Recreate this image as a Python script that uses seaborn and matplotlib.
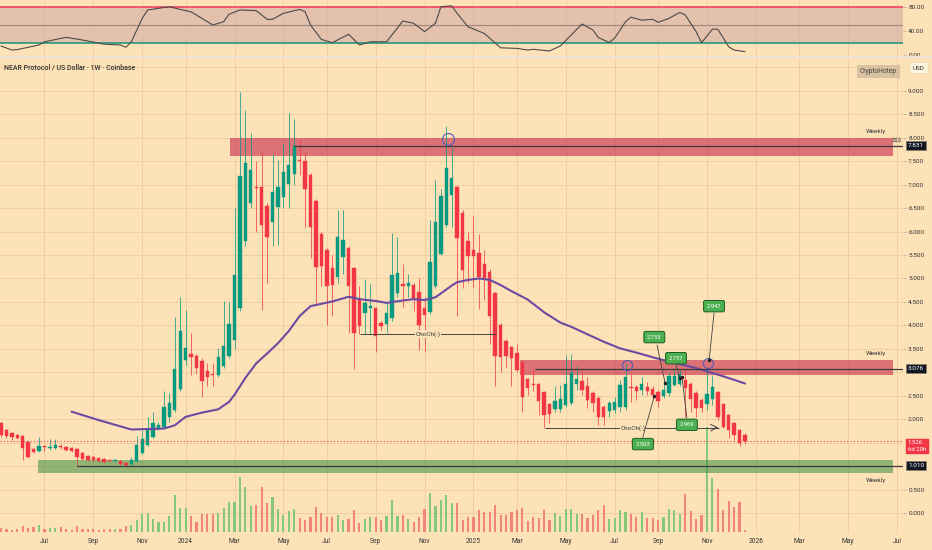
import numpy as np
import pandas as pd
import matplotlib
matplotlib.use("Agg")
import matplotlib.pyplot as plt
from matplotlib.patches import Rectangle
import seaborn as sns

# weekly candles, NEAR/USD, first bar 2023-05-08
opens = [1.91, 1.78, 1.71, 1.66, 1.64, 1.52, 1.36, 1.33, 1.41, 1.39,
         1.39, 1.43, 1.41, 1.38, 1.36, 1.27, 1.22, 1.19, 1.17, 1.15,
         1.12, 1.11, 1.11, 1.06, 1.04, 1.11, 1.27, 1.44, 1.61, 1.79,
         1.84, 2.04, 2.20, 2.64, 3.26, 3.39, 3.35, 3.23, 3.03, 2.96,
         2.94, 3.13, 3.35, 3.69, 4.38, 5.79, 6.62, 6.96, 6.94, 6.54,
         6.21, 6.53, 6.74, 7.01, 7.22, 7.53, 7.51, 7.21, 6.65, 5.94,
         5.61, 5.22, 5.04, 5.46, 5.64, 5.22, 4.54, 4.26, 4.38, 4.37,
         4.06, 4.03, 4.15, 4.68, 4.88, 4.85, 4.86, 4.72, 4.37, 4.29,
         4.83, 5.53, 6.14, 6.77, 6.94, 6.39, 5.79, 5.61, 5.54, 5.30,
         5.14, 4.68, 4.01, 3.67, 3.53, 3.42, 3.22, 2.85, 2.75, 2.74,
         2.57, 2.32, 2.21, 2.21, 2.31, 2.35, 2.76, 2.82, 2.71, 2.56,
         2.46, 2.25, 2.18, 2.20, 2.25, 2.25, 2.68, 2.68, 2.63, 2.68,
         2.65, 2.58, 2.49, 2.55, 2.73, 2.76, 2.84, 2.76, 2.55, 2.41,
         2.32, 2.42, 2.57, 2.32, 2.09, 1.91, 1.77, 1.67]
highs = [1.95, 1.80, 1.73, 1.68, 1.66, 1.54, 1.38, 1.63, 1.45, 1.58,
         1.58, 1.48, 1.43, 1.40, 1.38, 1.29, 1.24, 1.21, 1.19, 1.17,
         1.15, 1.15, 1.13, 1.08, 1.20, 1.65, 1.76, 2.04, 2.16, 1.95,
         2.61, 2.55, 4.17, 4.61, 4.32, 3.83, 3.40, 3.30, 3.20, 3.20,
         3.52, 4.51, 4.50, 6.50, 8.98, 8.59, 8.10, 7.50, 7.69, 6.60,
         7.66, 7.52, 7.87, 8.52, 8.40, 7.97, 7.70, 7.25, 6.70, 6.00,
         5.65, 5.50, 6.46, 6.46, 5.70, 5.25, 4.83, 4.99, 4.89, 4.40,
         4.10, 4.50, 5.96, 5.89, 5.30, 5.10, 4.90, 5.00, 4.60, 6.25,
         7.10, 6.90, 8.25, 7.80, 7.00, 6.45, 6.00, 6.34, 5.94, 5.60,
         5.20, 4.72, 4.05, 3.70, 3.55, 3.60, 3.25, 2.88, 3.08, 2.78,
         2.60, 2.35, 2.71, 2.72, 3.37, 3.40, 3.13, 2.98, 2.90, 2.60,
         2.50, 2.30, 2.38, 2.48, 2.84, 3.19, 2.97, 2.72, 2.90, 2.80,
         2.70, 2.62, 2.83, 3.01, 3.10, 3.05, 3.05, 2.80, 2.60, 2.45,
         3.10, 2.95, 2.60, 2.35, 2.12, 1.95, 1.80, 1.70]
lows = [1.62, 1.60, 1.56, 1.58, 1.12, 1.17, 1.28, 1.30, 1.32, 1.35,
        1.37, 1.36, 1.32, 1.30, 1.01, 1.12, 1.11, 1.09, 1.08, 1.06,
        1.08, 1.08, 1.02, 0.99, 1.02, 1.09, 1.25, 1.42, 1.59, 1.77,
        1.82, 1.95, 2.15, 2.60, 3.16, 2.94, 2.96, 2.47, 2.70, 2.70,
        2.90, 3.10, 3.30, 3.50, 4.30, 5.70, 6.50, 6.00, 4.32, 4.91,
        5.70, 5.72, 6.50, 6.50, 7.00, 7.20, 6.10, 5.43, 4.47, 4.83,
        4.01, 4.19, 4.90, 5.10, 3.83, 3.07, 3.82, 3.82, 3.82, 3.43,
        3.90, 3.84, 4.10, 4.60, 4.40, 4.60, 4.30, 3.47, 3.43, 4.25,
        4.80, 5.50, 6.10, 6.10, 4.21, 4.80, 4.90, 4.80, 4.35, 4.55,
        3.60, 2.70, 3.00, 3.10, 2.70, 3.00, 2.16, 2.51, 2.61, 2.09,
        1.82, 1.91, 2.15, 2.15, 2.25, 2.30, 2.62, 2.51, 2.23, 2.16,
        1.87, 1.87, 2.05, 2.13, 2.15, 2.20, 2.37, 2.41, 2.51, 2.51,
        2.44, 2.27, 2.45, 2.50, 2.70, 2.70, 2.05, 2.16, 2.05, 2.16,
        2.20, 2.30, 1.98, 1.81, 1.59, 1.56, 1.42, 1.48]
closes = [1.66, 1.64, 1.61, 1.60, 1.38, 1.19, 1.30, 1.42, 1.40, 1.41,
          1.46, 1.40, 1.35, 1.32, 1.19, 1.15, 1.14, 1.12, 1.11, 1.09,
          1.11, 1.12, 1.04, 1.02, 1.14, 1.45, 1.58, 1.78, 1.91, 1.87,
          2.25, 2.34, 3.06, 3.89, 3.51, 3.32, 3.10, 2.82, 2.89, 2.94,
          3.32, 3.55, 4.04, 5.07, 7.19, 7.455, 7.31, 6.92, 6.15, 5.89,
          6.85, 6.94, 7.26, 7.43, 7.82, 7.51, 6.90, 6.09, 5.25, 5.27,
          4.83, 4.86, 5.89, 5.83, 4.83, 3.83, 3.99, 4.47, 4.40, 3.78,
          3.98, 4.26, 5.07, 5.11, 4.85, 4.90, 4.57, 4.01, 4.22, 5.36,
          6.21, 6.76, 7.35, 7.15, 5.86, 5.18, 5.47, 5.47, 5.04, 5.00,
          4.19, 3.35, 3.33, 3.35, 3.31, 3.05, 2.48, 2.66, 2.73, 2.38,
          2.08, 2.11, 2.39, 2.44, 2.75, 2.99, 2.86, 2.62, 2.40, 2.35,
          2.05, 2.05, 2.34, 2.37, 2.72, 2.90, 2.66, 2.60, 2.74, 2.60,
          2.52, 2.39, 2.62, 2.92, 2.93, 2.96, 2.66, 2.44, 2.23, 2.23,
          2.54, 2.68, 2.04, 1.84, 1.77, 1.67, 1.50, 1.526]
volume = [4.3, 3.3, 2.0, 3.3, 6.0, 3.7, 5.3, 6.7, 3.3, 3.7,
          3.7, 5.3, 3.3, 2.0, 6.0, 2.7, 2.7, 2.7, 2.3, 2.7,
          2.7, 3.3, 3.3, 6.0, 7.3, 12.0, 17.7, 18.7, 13.3, 10.0,
          10.3, 16.0, 36.7, 24.3, 23.7, 16.0, 10.0, 17.7, 17.7, 17.7,
          19.3, 24.3, 30.0, 30.0, 55.3, 45.0, 25.7, 26.7, 45.3, 29.3,
          35.0, 23.3, 16.7, 20.7, 22.7, 13.7, 11.7, 15.0, 25.3, 18.7,
          15.3, 15.3, 16.7, 11.7, 13.3, 22.0, 8.7, 13.3, 15.3, 15.3,
          11.7, 15.7, 31.7, 16.0, 16.7, 13.3, 10.3, 15.0, 23.3, 38.7,
          25.7, 32.0, 37.0, 29.3, 28.7, 11.7, 15.3, 15.3, 22.0, 20.3,
          19.7, 27.0, 17.0, 16.7, 19.7, 21.7, 23.7, 11.0, 15.0, 14.0,
          21.7, 11.7, 19.3, 16.0, 22.7, 23.3, 18.0, 18.3, 14.0, 17.0,
          21.7, 27.0, 12.7, 13.7, 21.7, 19.7, 17.7, 15.0, 19.7, 13.7,
          13.7, 12.0, 15.3, 23.3, 22.0, 18.3, 38.3, 21.0, 12.7, 17.0,
          105.0, 53.7, 43.3, 22.0, 30.7, 25.3, 30.3, 2.3]

# moving average (bar index, value)
ma_idx = [13, 18, 24, 30, 32, 34, 37, 40, 42, 43, 45, 47, 49, 51, 53, 55, 57, 61,
          64, 66, 69, 71, 74, 76, 78, 80, 81, 83, 84, 86, 88, 90, 92, 94, 97, 100,
          103, 105, 108, 111, 114, 117, 120, 124, 128, 132, 135, 137]
ma_val = [2.16, 1.98, 1.78, 1.80, 1.87, 2.05, 2.14, 2.21, 2.37, 2.52, 2.88, 3.19,
          3.40, 3.62, 3.88, 4.20, 4.41, 4.51, 4.61, 4.56, 4.52, 4.48, 4.53, 4.56,
          4.54, 4.60, 4.68, 4.85, 4.92, 4.97, 5.00, 4.97, 4.86, 4.73, 4.55, 4.28,
          4.06, 3.97, 3.81, 3.65, 3.51, 3.42, 3.32, 3.20, 3.09, 2.95, 2.84, 2.76]

# oscillator pane (bar index, value)
rsi_idx = [0, 2, 3, 7, 8, 12, 15, 19, 22, 23, 24, 26, 27, 29, 31, 33, 35, 37, 39,
           41, 42, 44, 47, 49, 50, 52, 55, 56, 57, 59, 61, 64, 66, 68, 71, 74, 76,
           78, 80, 81, 83, 84, 86, 89, 92, 95, 97, 98, 101, 103, 107, 109, 110,
           112, 113, 115, 116, 118, 120, 121, 123, 125, 126, 128, 129, 131, 132,
           134, 135, 137]
rsi_val = [15, 8.3, 9, 16.7, 22, 29.5, 25, 18, 16.7, 12.8, 22, 61, 75, 77.8, 80.5,
           76, 72, 61, 50, 55.5, 68, 75, 74, 59.5, 59.5, 69.5, 76, 72, 50, 26, 20.5,
           34.5, 16.7, 22, 22, 56.7, 52.8, 39, 52.8, 80.5, 82, 69.5, 47, 36, 12, 11,
           8.3, 9.5, 6.7, 15, 51.7, 41.7, 29, 21, 28, 55.5, 63, 58, 59.5, 54.5, 61,
           71, 66.7, 39, 20.5, 43, 43, 13.8, 8.3, 5.5]

# annotation labels (bar index, price)
label_text = ["2.753", "2.757", "2.947", "2.969", "2.503"]
label_pos = [(120.3, 3.75), (124.3, 3.30), (131.3, 4.41), (126.3, 1.88), (118.2, 1.47)]
label_tip = [((120.8, 3.58), (122.3, 2.77)), ((124.3, 3.16), (125.0, 2.88)),
             ((131.3, 4.26), (130.4, 3.26)), ((126.3, 2.03), (125.4, 2.90)),
             ((118.2, 1.62), (120.3, 2.49))]

BG = "#FDE2B8"
GRID = "#EFCFA2"
UP = "#089981"
DOWN = "#F23645"
TXT = "#333333"

W, H = 932, 550
N = len(closes)
dates = pd.date_range("2023-05-08", periods=170, freq="7D")
XMIN, XMAX = -0.184, 166.1


def rect(x0, y0, x1, y1):
    return [x0 / W, 1 - y1 / H, (x1 - x0) / W, (y1 - y0) / H]


sns.set_theme(style="white")
plt.rcParams["font.family"] = ["Roboto", "DejaVu Sans"]

fig = plt.figure(figsize=(W / 100, H / 100), dpi=100, facecolor=BG)
vol_ax = fig.add_axes(rect(0, 58, 903, 534))
ax = fig.add_axes(rect(0, 58, 903, 534))
rsi_ax = fig.add_axes(rect(0, 0, 903, 56))

# month ticks at first bar of every other month
tick_pos, tick_lab = [], []
for i in range(1, len(dates)):
    d = dates[i]
    if d.month != dates[i - 1].month and d.month % 2 == 1 and i < XMAX:
        tick_pos.append(i)
        tick_lab.append(str(d.year) if d.month == 1 else d.strftime("%b"))

for a in (vol_ax, ax, rsi_ax):
    a.set_xlim(XMIN, XMAX)
    for s in a.spines.values():
        s.set_visible(False)

# background, grid, volume
vol_ax.set_facecolor(BG)
vol_ax.set_ylim(-2, 474)
vol_ax.set_xticks([])
vol_ax.set_yticks([])
ax.patch.set_alpha(0)
ax.set_ylim(-0.448, 9.701)
price_to_vol = lambda p: (p + 0.448) / 10.149 * 476 - 2
for v in np.arange(0, 9.51, 0.5):
    vol_ax.axhline(price_to_vol(v), color=GRID, lw=0.7, zorder=0)
for t in tick_pos:
    vol_ax.axvline(t, color=GRID, lw=0.7, zorder=0)
idx = np.arange(N)
o, h, l, c = map(np.array, (opens, highs, lows, closes))
up = c >= o
vol_ax.bar(idx, volume, width=0.4, color=np.where(up, "#86C77A", "#F2847C"),
           edgecolor="none", linewidth=0, zorder=2)

# zones
band_kw = dict(zorder=1, lw=0)
ax.add_patch(Rectangle((42.2, 7.62), 164.3 - 42.2, 0.38, fc="#C8284A", alpha=0.6, **band_kw))
ax.add_patch(Rectangle((95.6, 2.94), 164.3 - 95.6, 0.32, fc="#C8284A", alpha=0.6, **band_kw))
ax.add_patch(Rectangle((6.8, 0.853), 164.3 - 6.8, 0.277, fc="#388E3C", alpha=0.55, **band_kw))

# candles
col = np.where(up, UP, DOWN)
ax.vlines(idx, l, h, colors=col, lw=0.7, alpha=0.75, zorder=3)
body = np.maximum(np.abs(c - o), 0.025)
ax.bar(idx, body, bottom=np.minimum(o, c), width=0.62, color=col, edgecolor=col, lw=0.3, zorder=4)

# moving average
sns.lineplot(x=ma_idx, y=ma_val, ax=ax, color="#6B4BA1", linewidth=1.5, zorder=5)

# levels
ax.hlines(7.831, 54, XMAX, color="#3a3a3a", lw=0.9, zorder=6)
ax.hlines(3.076, 98.3, XMAX, color="#3a3a3a", lw=0.9, zorder=6)
ax.hlines(1.010, 14, XMAX, color="#3a3a3a", lw=0.9, zorder=6)
ax.axhline(c[-1], color=DOWN, ls=(0, (1, 2)), lw=0.8, zorder=6)

for txt, px, py in [("Weekly", 161.1, 8.14), ("Weekly", 161.1, 3.41), ("Weekly", 161.1, 0.70)]:
    ax.text(px, py, txt, ha="center", va="center", fontsize=4.6, color=TXT, zorder=7)
ax.text(165.0, 7.93, "$$$", ha="center", va="center", fontsize=4.2, color=TXT, zorder=7)

# ChoCh lines
ax.hlines(3.82, 66.1, 91.2, color="#444444", lw=0.7, zorder=6)
ax.text(78.6, 3.82, "ChoCh(-)", ha="center", va="center", fontsize=4.6, color=TXT, zorder=7,
        bbox=dict(fc=BG, ec="none", pad=0.6))
ax.hlines(1.82, 100.2, 132.2, color="#444444", lw=0.7, zorder=6)
ax.annotate("", xy=(132.6, 1.82), xytext=(131.0, 1.82), zorder=6,
            arrowprops=dict(arrowstyle="->", lw=0.7, color="#444444"))
ax.text(116.4, 1.82, "ChoCh(-)", ha="center", va="center", fontsize=4.6, color=TXT, zorder=7,
        bbox=dict(fc=BG, ec="none", pad=0.6))

# circles
ax.plot([82.3], [7.97], marker="o", ms=8.6, mfc="none", mec="#4F5BB5", mew=0.8, zorder=8)
ax.plot([115.3, 130.2], [3.16, 3.20], ls="none", marker="o", ms=7.2, mfc="none",
        mec="#4F5BB5", mew=0.8, zorder=8)

# green labels
for txt, (lx, ly), (p0, p1) in zip(label_text, label_pos, label_tip):
    ax.plot([p0[0], p1[0]], [p0[1], p1[1]], color="#444444", lw=0.6, zorder=8)
    ax.plot([p1[0]], [p1[1]], "o", ms=1.5, color="#222222", zorder=8)
    ax.text(lx, ly, txt, ha="center", va="center", fontsize=4.2, color="white", zorder=9,
            bbox=dict(boxstyle="round,pad=0.55,rounding_size=0.3", fc="#4CAF50", ec="#1E5E22", lw=0.7))

# price axis
ax.yaxis.tick_right()
yt = [0, 0.5, 2.0, 2.5, 3.5, 4.0, 4.5, 5.0, 5.5, 6.0, 6.5, 7.0, 7.5, 8.0, 8.5, 9.0]
ax.set_yticks(yt)
ax.set_yticklabels([f"{v:.3f}" for v in yt])
ax.tick_params(axis="y", length=2.2, width=0.5, color="#b8a88e", pad=1.5, labelsize=4.6, labelcolor=TXT)
ax.set_xticks(tick_pos)
ax.set_xticklabels(tick_lab)
ax.tick_params(axis="x", length=0, pad=3.2, labelsize=4.8, labelcolor=TXT)
ax.set_xlabel("")
ax.set_ylabel("")

ytr = ax.get_yaxis_transform()
box = dict(boxstyle="square,pad=0.3", fc="#131722", ec="#8a7d6a", lw=0.5)
for p, t in [(7.831, "7.831"), (3.076, "3.076"), (1.010, "1.010")]:
    ax.text(1.0055, p, t, transform=ytr, ha="left", va="center", fontsize=4.6, color="white",
            bbox=box, clip_on=False, zorder=10)
ax.text(1.0055, 1.43, f"{c[-1]:.3f}\n6d 20h", transform=ytr, ha="left", va="center",
        fontsize=4.3, color="white", linespacing=1.3, clip_on=False, zorder=10,
        bbox=dict(boxstyle="square,pad=0.3", fc=DOWN, ec=DOWN))

# oscillator pane
rsi_ax.set_facecolor(BG)
rsi_ax.set_ylim(-1.67, 91.67)
for t in tick_pos:
    rsi_ax.axvline(t, color=GRID, lw=0.7, zorder=0)
rsi_ax.axhspan(20, 80, color="#D6B0A6", alpha=0.65, lw=0, zorder=1)
rsi_ax.axhline(80, color="#F2365A", lw=1.1, zorder=2)
rsi_ax.axhline(50, color="#9C877C", lw=0.8, zorder=2)
rsi_ax.axhline(20, color="#13927A", lw=1.1, zorder=2)
sns.lineplot(x=rsi_idx, y=rsi_val, ax=rsi_ax, color="#4a4a4a", linewidth=0.8, zorder=3)
rsi_ax.yaxis.tick_right()
rsi_ax.set_yticks([0, 40, 80])
rsi_ax.set_yticklabels(["0.00", "40.00", "80.00"])
rsi_ax.tick_params(axis="y", length=2.2, width=0.5, color="#b8a88e", pad=1.5, labelsize=4.6, labelcolor=TXT)
rsi_ax.set_xticks([])
rsi_ax.set_xlabel("")
rsi_ax.set_ylabel("")

# pane separator and header texts
fig.add_artist(plt.Line2D([0, 1], [1 - 57 / H, 1 - 57 / H], color="#EEE3D3", lw=1.6))
fig.text(4 / W, 1 - 68 / H, "NEAR Protocol / US Dollar \u00b7 1W \u00b7 Coinbase", fontsize=5,
         fontweight="medium", color=TXT, ha="left", va="center")
fig.text(878 / W, 1 - 71 / H, "CryptoHotep", fontsize=4.8, color="#444444", ha="center", va="center",
         bbox=dict(boxstyle="square,pad=0.45", fc="#D9C2A2", ec="none"))
fig.text(919 / W, 1 - 68 / H, "USD", fontsize=4.6, color=TXT, ha="center", va="center",
         bbox=dict(boxstyle="round,pad=0.5,rounding_size=0.2", fc="#FFF5DE", ec="#E9D6B6", lw=0.5))

fig.savefig("out.png", dpi=100, facecolor=BG)
